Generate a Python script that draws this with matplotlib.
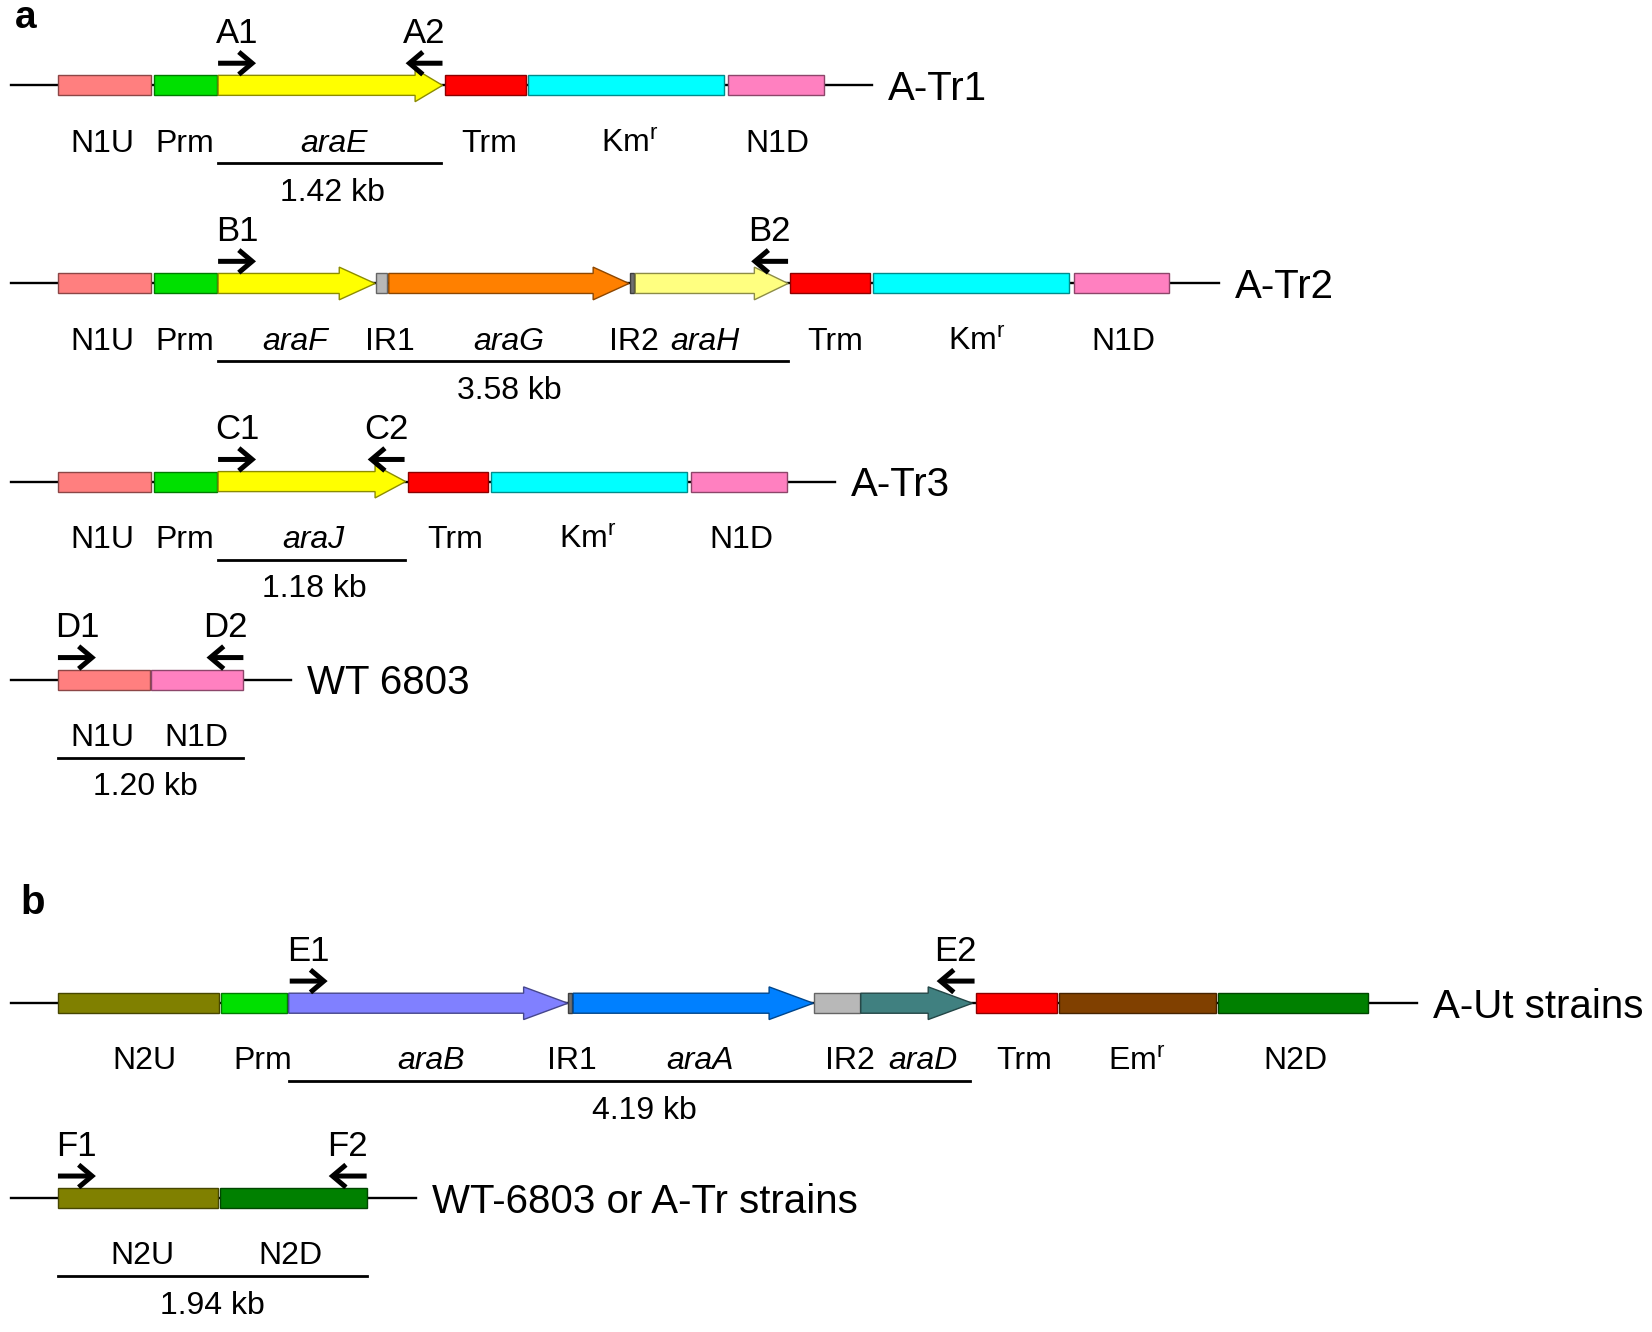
import numpy as np
import matplotlib.pyplot as plt
from matplotlib.patches import Polygon
from matplotlib.colors import to_rgb

plt.rcParams['font.family'] = ['Liberation Sans', 'DejaVu Sans']
plt.rcParams['mathtext.default'] = 'regular'

# drawing units = reference as displayed (1568 x 1264)
W, H = 1568, 1264

colors = {
    "N1U": "#FF7F7F", "N1D": "#FF80C0", "Prm": "#00E000", "Trm": "#FF0000",
    "Km": "#00FFFF", "Em": "#804000", "N2U": "#808000", "N2D": "#008000",
    "araE": "#FFFF00", "araF": "#FFFF00", "araG": "#FF8000", "araH": "#FFFF80",
    "araJ": "#FFFF00", "araB": "#8080FF", "araA": "#0080FF", "araD": "#408080",
    "IR1": "#B8B8B8", "IR2": "#B8B8B8", "IRt": "#707070",
}
head_len = {"araE": 26, "araF": 34, "araG": 34, "araH": 32, "araJ": 29,
            "araB": 42, "araA": 42, "araD": 42}

# ---- construct data: (part, start, end) ----
tr1_parts = [("N1U", 55, 143), ("Prm", 146, 206), ("araE", 207, 420),
             ("Trm", 422, 499), ("Km", 501, 687), ("N1D", 691, 782)]
tr1_labels = [("N1U", 97), ("Prm", 175), ("araE", 317), ("Trm", 464),
              ("Km$^{r}$", 598), ("N1D", 738)]
tr1_primers = [("A1", 207, 243), ("A2", 420, 385)]

tr2_parts = [("N1U", 55, 143), ("Prm", 146, 206), ("araF", 207, 356),
             ("IR1", 357, 367), ("araG", 369, 597), ("IRt", 598, 602),
             ("araH", 603, 748), ("Trm", 750, 826), ("Km", 829, 1015),
             ("N1D", 1019, 1110)]
tr2_labels = [("N1U", 97), ("Prm", 175), ("araF", 280), ("IR1", 370),
              ("araG", 483), ("IR2", 602), ("araH", 669), ("Trm", 793),
              ("Km$^{r}$", 927), ("N1D", 1066)]
tr2_primers = [("B1", 207, 243), ("B2", 748, 713)]

tr3_parts = [("N1U", 55, 143), ("Prm", 146, 206), ("araJ", 207, 385),
             ("Trm", 387, 463), ("Km", 466, 652), ("N1D", 656, 747)]
tr3_labels = [("N1U", 97), ("Prm", 175), ("araJ", 297), ("Trm", 432),
              ("Km$^{r}$", 558), ("N1D", 704)]
tr3_primers = [("C1", 207, 243), ("C2", 384, 349)]

wt_parts = [("N1U", 55, 142), ("N1D", 143, 231)]
wt_labels = [("N1U", 97), ("N1D", 186)]
wt_primers = [("D1", 55, 91), ("D2", 231, 196)]

ut_parts = [("N2U", 55, 208), ("Prm", 210, 272), ("araB", 274, 539),
            ("IRt", 539, 543), ("araA", 544, 772), ("IR2", 773, 816),
            ("araD", 817, 923), ("Trm", 926, 1003), ("Em", 1005, 1154),
            ("N2D", 1156, 1298)]
ut_labels = [("N2U", 137), ("Prm", 249), ("araB", 409), ("IR1", 543),
             ("araA", 664), ("IR2", 807), ("araD", 876), ("Trm", 972),
             ("Em$^{r}$", 1079), ("N2D", 1230)]
ut_primers = [("E1", 275, 311), ("E2", 925, 889)]

wt2_parts = [("N2U", 55, 207), ("N2D", 209, 348)]
wt2_labels = [("N2U", 135), ("N2D", 276)]
wt2_primers = [("F1", 55, 91), ("F2", 348, 312)]

# rows: name, backbone y, parts, labels, primers, line end, amplicon span, size text, size x
rows = [
    ("A-Tr1", 81, tr1_parts, tr1_labels, tr1_primers, 828, (207, 419), "1.42 kb", 316),
    ("A-Tr2", 269, tr2_parts, tr2_labels, tr2_primers, 1157, (207, 748), "3.58 kb", 483),
    ("A-Tr3", 457, tr3_parts, tr3_labels, tr3_primers, 793, (207, 384), "1.18 kb", 298),
    ("WT 6803", 645, wt_parts, wt_labels, wt_primers, 276, (55, 231), "1.20 kb", 138),
    ("A-Ut strains", 952, ut_parts, ut_labels, ut_primers, 1345, (274, 921), "4.19 kb", 612),
    ("WT-6803 or A-Tr strains", 1137, wt2_parts, wt2_labels, wt2_primers, 395, (55, 348), "1.94 kb", 202),
]

fig = plt.figure(figsize=(16.52, 13.32), dpi=100)
ax = fig.add_axes([0, 0, 1, 1])
ax.set_xlim(0, W)
ax.set_ylim(H, 0)
ax.axis('off')

PX = 1652 / W  # figure px per drawing unit
def cap(fs):
    # cap height in drawing units for a font size
    return fs * 100 / 72 * 0.716 / PX

def put(x, yc, s, fs, **kw):
    ax.text(x, yc + cap(fs) / 2, s, fontsize=fs, ha=kw.pop('ha', 'center'),
            va='baseline', **kw)

BH, HH = 9.5, 15.5
for name, y, parts, labels, primers, lend, span, size, sx in rows:
    ax.plot([10, lend], [y, y], color='k', lw=1.7, zorder=1)
    for p, x0, x1 in parts:
        fc = colors[p]
        ec = tuple(np.array(to_rgb(fc)) * 0.55)
        if p in head_len:
            hs = x1 - head_len[p]
            verts = [(x0, y - BH), (hs, y - BH), (hs, y - HH), (x1, y),
                     (hs, y + HH), (hs, y + BH), (x0, y + BH)]
        else:
            verts = [(x0, y - BH), (x1, y - BH), (x1, y + BH), (x0, y + BH)]
        ax.add_patch(Polygon(verts, closed=True, facecolor=fc, edgecolor=ec,
                             lw=1.0, zorder=2))
    for s, x in labels:
        style = 'italic' if s.startswith('ara') else 'normal'
        put(x, y + 52, s, 23, style=style)
    for s, xt, xh in primers:
        ay = y - 21
        ax.annotate('', xy=(xh, ay), xytext=(xt, ay),
                    arrowprops=dict(arrowstyle='->,head_length=0.32,head_width=0.27',
                                    lw=3.6, color='k', shrinkA=0, shrinkB=0,
                                    mutation_scale=30, capstyle='butt',
                                    joinstyle='miter'))
        put((xt + xh) / 2, y - 52, s, 25)
    ax.plot(span, [y + 74, y + 74], color='k', lw=2.0)
    put(sx, y + 99, size, 23)
    put(lend + 15, y, name, 29, ha='left')

ax.text(24, 27, "a", fontsize=28, weight='bold', ha='center', va='baseline')
ax.text(31, 867, "b", fontsize=29, weight='bold', ha='center', va='baseline')

fig.savefig("out.png", dpi=100)
